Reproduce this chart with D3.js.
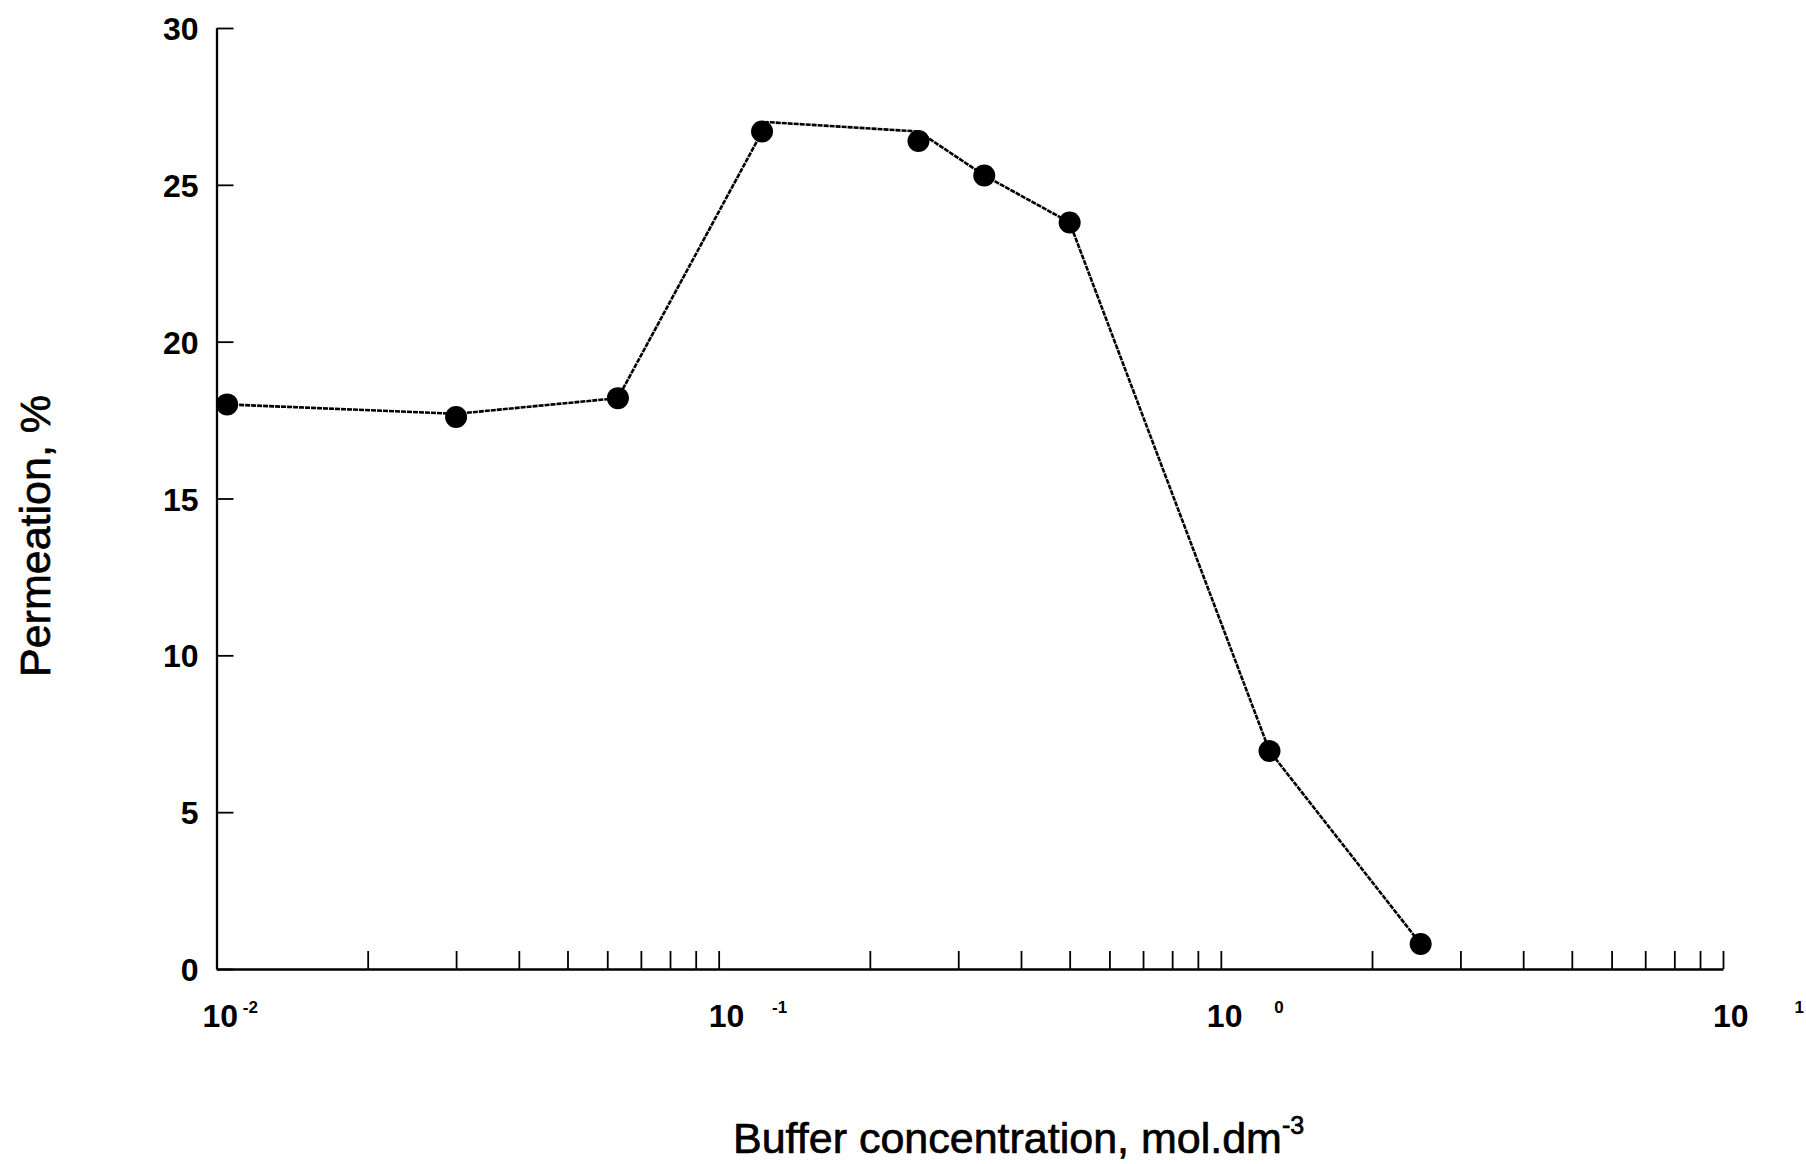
<!DOCTYPE html>
<html>
<head>
<meta charset="utf-8">
<script src="https://cdn.jsdelivr.net/npm/d3@7"></script>
<style>
  body { margin: 0; background: #fff; }
  svg { display: block; }
  text { font-family: "Liberation Sans", Arial, Helvetica, sans-serif; fill: #000; }
</style>
</head>
<body>
<svg id="chart" width="1806" height="1164"></svg>
<script>
// Measured permeation (%) against buffer concentration (mol/dm3)
const concentration = [0.0105, 0.03, 0.063, 0.122, 0.25, 0.338, 0.5, 1.25, 2.5];
const permeation    = [18.0, 17.6, 18.2, 26.7, 26.4, 25.3, 23.8, 6.95, 0.8];

// Vertices of the hand-drawn connecting trace
const traceConcentration = [0.0105, 0.03, 0.063, 0.125, 0.25, 0.338, 0.5, 1.25, 2.5];
const tracePermeation    = [18.0, 17.7, 18.2, 27.0, 26.7, 25.3, 23.8, 6.95, 0.8];

const yTicks = [0, 5, 10, 15, 20, 25, 30];
const xDecades = [0.01, 0.1, 1, 10];
const xDecadeExponents = ["-2", "-1", "0", "1"];
const xTitle = "Buffer concentration, mol.dm";
const xTitleSup = "-3";
const yTitle = "Permeation, %";

const svg = d3.select("#chart");

const x = d3.scaleLog().domain([0.01, 10]).range([216.5, 1723]);
const y = d3.scaleLinear().domain([0, 30]).range([969, 28]);

// minor + major ticks of the log axis (2..10 in every decade)
const xTickValues = [];
xDecades.slice(0, -1).forEach(d => {
  for (let k = 2; k <= 10; k++) xTickValues.push(d * k);
});

// x axis: ticks point up into the plot
const xAxis = svg.append("g")
  .attr("transform", `translate(0,${y(0)})`)
  .call(d3.axisBottom(x).tickValues(xTickValues).tickFormat("")
    .tickSizeInner(-18).tickSizeOuter(0));
xAxis.select(".domain").attr("stroke", "#000").attr("stroke-width", 2.3);
xAxis.selectAll(".tick line").attr("stroke", "#000").attr("stroke-width", 1.8);

// y axis: ticks point right into the plot
const yAxis = svg.append("g")
  .attr("transform", `translate(${x(0.01)},0)`)
  .call(d3.axisLeft(y).tickValues(yTicks).tickFormat(d3.format("d"))
    .tickSizeInner(-17).tickSizeOuter(0).tickPadding(18));
yAxis.select(".domain").attr("stroke", "#000").attr("stroke-width", 2.3);
yAxis.selectAll(".tick line").attr("stroke", "#000").attr("stroke-width", 1.8);
yAxis.selectAll(".tick text")
  .attr("font-family", "'Liberation Sans', Arial, Helvetica, sans-serif")
  .attr("font-size", 32).attr("font-weight", "bold").attr("fill", "#000")
  .attr("dy", "0.36em");

// decade labels "10" with a raised exponent
const labelShift = [-14, -10, -14, -10];
const expShift = [26.3, 53.4, 53.3, 71.5];
xDecades.forEach((d, i) => {
  const t = svg.append("text")
    .attr("font-weight", "bold")
    .attr("y", 1027);
  t.append("tspan").attr("x", x(d) + labelShift[i]).attr("font-size", 32).text("10");
  t.append("tspan").attr("x", x(d) + expShift[i]).attr("y", 1013)
    .attr("font-size", 17).text(xDecadeExponents[i]);
});

// connecting trace
const line = d3.line()
  .x((d, i) => x(traceConcentration[i]))
  .y((d, i) => y(tracePermeation[i]));
svg.append("path")
  .datum(traceConcentration)
  .attr("d", line)
  .attr("fill", "none")
  .attr("stroke", "#000")
  .attr("stroke-width", 2.6)
  .attr("stroke-dasharray", "5,1");

// data markers
svg.append("g").selectAll("circle")
  .data(concentration)
  .join("circle")
  .attr("cx", d => x(d))
  .attr("cy", (d, i) => y(permeation[i]))
  .attr("r", 11)
  .attr("fill", "#000");

// axis titles
const xt = svg.append("text")
  .attr("x", 733).attr("y", 1153)
  .attr("font-size", 43)
  .attr("stroke", "#000").attr("stroke-width", 0.7);
xt.append("tspan").text(xTitle);
xt.append("tspan").attr("dy", -19).attr("font-size", 25).text(xTitleSup);

svg.append("text")
  .attr("transform", "translate(50,536) rotate(-90)")
  .attr("text-anchor", "middle")
  .attr("font-size", 43)
  .attr("stroke", "#000").attr("stroke-width", 0.7)
  .text(yTitle);
</script>
</body>
</html>
